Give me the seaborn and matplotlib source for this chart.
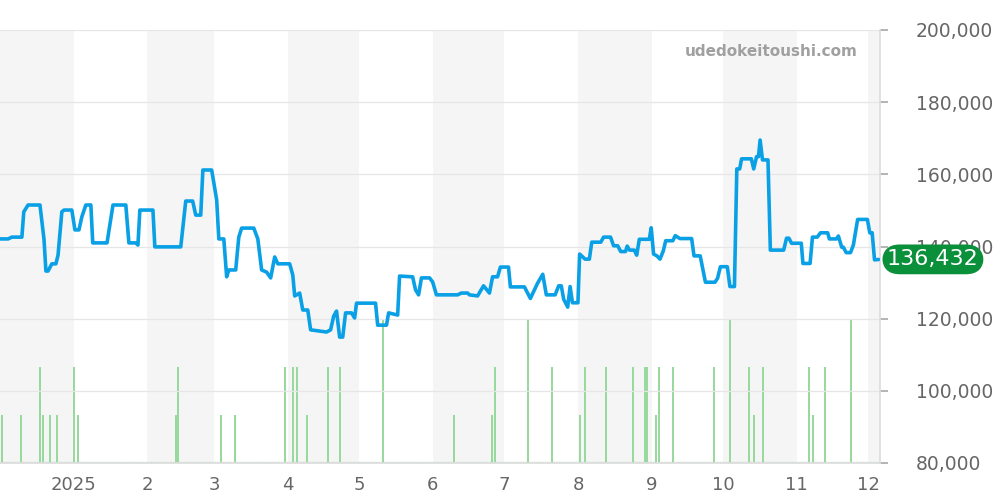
import pandas as pd
import numpy as np
import seaborn as sns
import matplotlib.pyplot as plt

start = pd.Timestamp("2024-12-01")

# price line: day offset from 2024-12-01, price
price_days = [0, 3.4, 5, 9.2, 10, 11.8, 16.8, 18.5, 19.3, 20.2, 21.8, 23.5, 24.4, 26, 26.9, 30.2,
              31.5, 33.2, 34.4, 36.1, 38.2, 39, 45, 46.2, 47.5, 52.9, 54.2, 57.1, 58, 58.8, 64.3,
              65.1, 76, 78.1, 81, 82.3, 84.4, 85.3, 89, 91.1, 92, 94.1, 95.3, 96.2, 99.1, 100.4,
              101.6, 106.7, 108.4, 110, 112.1, 113.8, 115.5, 116.8, 121.8, 123.1, 123.9, 126,
              127.3, 129.4, 130.6, 137.3, 139, 140.3, 141.5, 142.8, 144.1, 145.3, 147.8, 149.1,
              149.9, 157.9, 158.8, 162.5, 163.4, 167.2, 168, 173.5, 174.7, 176, 177.2, 180.6,
              181.9, 183.5, 192.4, 194, 196.6, 197.4, 200.8, 203.3, 205.8, 207.1, 209.2, 210.4,
              213.8, 214.6, 220.5,
              223.0, 226.0, 228.2, 229.7, 233.4, 234.9, 236.0, 237.0, 238.7, 239.7, 240.7, 243.0,
              243.7, 246.0, 247.8, 248.8, 252.6, 253.8, 256.7, 258.0, 259.7, 261.0, 263.0, 263.7,
              264.7, 266.7, 267.7, 268.8, 273.0, 273.8, 274.8, 276.2, 277.5, 278.9, 279.9, 282.9,
              283.9, 285.9, 290.8, 291.8, 294.4, 296.6, 300.6, 301.7, 302.9, 305.8, 306.9, 308.8,
              309.8, 311.0, 311.8, 315.9, 316.9, 318.1, 318.9, 319.6, 320.6, 322.9, 323.9, 329.5,
              330.7, 331.7, 332.8, 336.9, 337.6, 340.6, 341.6, 343.6, 345.0, 348.0, 348.7, 351.7,
              352.5, 353.9, 354.6, 355.8, 357.6, 358.8, 360.6, 364.7, 365.7, 366.7, 367.7, 369.4]
price_vals = [142.1, 142.1, 142.6, 142.6, 149.6, 151.5, 151.5, 142.0, 133.2, 133.2, 135.2, 135.2,
              137.6, 149.6, 150.1, 150.1, 144.6, 144.6, 148.2, 151.5, 151.5, 141.0, 141.0, 146.0,
              151.5, 151.5, 141.0, 141.0, 140.4, 150.1, 150.1, 139.9, 139.9, 152.6, 152.6, 148.7,
              148.7, 161.2, 161.2, 152.9, 142.1, 142.1, 131.6, 133.5, 133.5, 142.6, 145.1, 145.1,
              142.1, 133.5, 132.9, 131.3, 137.1, 135.2, 135.2, 132.1, 126.3, 127.1, 122.4, 122.4,
              116.9, 116.3, 116.9, 120.7, 122.1, 114.9, 114.9, 121.6, 121.6, 120.2, 124.3, 124.3,
              118.2, 118.2, 121.6, 121.0, 131.8, 131.6, 128.0, 126.6, 131.3, 131.3, 130.2, 126.6,
              126.6, 127.1, 127.1, 126.6, 126.3, 129.1, 127.1, 131.6, 131.6, 134.3, 134.3, 128.8,
              128.8,
              125.6, 129.8, 132.3, 126.6, 126.6, 129.1, 129.1, 125.4, 123.2, 128.9, 124.4, 124.4,
              137.9, 136.5, 136.5, 141.2, 141.2, 142.6, 142.6, 140.2, 140.2, 138.6, 138.6, 140.1,
              139.0, 139.0, 137.6, 142.0, 142.0, 145.2, 137.9, 137.4, 136.5, 138.8, 141.6, 141.6,
              143.0, 142.2, 142.2, 137.4, 137.4, 130.1, 130.1, 131.2, 134.4, 134.4, 128.9, 128.9,
              161.5, 161.5, 164.3, 164.3, 161.5, 164.9, 164.9, 169.5, 164.0, 164.0, 139.0, 139.0,
              142.3, 142.3, 140.9, 140.9, 135.3, 135.3, 142.6, 142.6, 143.8, 143.8, 142.1, 142.1,
              142.9, 139.8, 139.8, 138.3, 138.3, 140.4, 147.5, 147.5, 143.8, 143.8, 136.3, 136.4]

# transactions per day
vol_days = [1, 9, 17, 18, 21, 24, 31, 33, 74, 75, 93, 99, 120, 123, 125, 129, 138, 143, 161,
            191, 207, 208, 222, 232, 244, 246, 255, 266, 271, 272, 276, 277, 283, 300, 307, 315,
            317, 321, 340, 342, 347, 358]
vol_counts = [1, 1, 2, 1, 1, 1, 2, 1, 1, 2, 1, 1, 2, 2, 2, 1, 2, 2, 3,
              1, 1, 2, 3, 2, 1, 2, 2, 2, 2, 2, 1, 2, 2, 2, 3, 2,
              1, 2, 2, 1, 2, 3]

y_ticks = [80000, 100000, 120000, 140000, 160000, 180000, 200000]
month_ticks = ["2025-01-01", "2025-02-01", "2025-03-01", "2025-04-01", "2025-05-01", "2025-06-01",
               "2025-07-01", "2025-08-01", "2025-09-01", "2025-10-01", "2025-11-01", "2025-12-01"]
month_labels = ["2025", "2", "3", "4", "5", "6", "7", "8", "9", "10", "11", "12"]
last_price = "136,432"

sns.set_theme(style="white")
plt.rcParams['font.family'] = ['DejaVu Sans']

df = pd.DataFrame({"date": start + pd.to_timedelta(price_days, unit="D"),
                   "price": np.array(price_vals) * 1000})
vdf = pd.DataFrame({"date": start + pd.to_timedelta(vol_days, unit="D"), "n": vol_counts})

fig = plt.figure(figsize=(10, 5), dpi=100)
ax = fig.add_axes([0, 0.074, 0.88, 0.866])
ax2 = ax.twinx()
ax.set_zorder(ax2.get_zorder() + 1)
ax.patch.set_visible(False)

x_end = start + pd.Timedelta(days=370)

# alternating month bands
band_edges = [start] + [pd.Timestamp(m) for m in month_ticks] + [x_end]
for i in range(0, len(band_edges) - 1, 2):
    ax2.axvspan(band_edges[i], band_edges[i + 1], color="#f5f5f5", lw=0, zorder=0)

ax2.vlines(vdf["date"], 0, vdf["n"], color="#8fd694", lw=1.3, zorder=2)
ax2.axhline(0.02, color="#a8dcaa", lw=1, ls=(0, (1, 1)), zorder=2)
ax2.set_ylim(0, 9)
ax2.set_yticks([])
for s in ax2.spines.values():
    s.set_visible(False)

sns.lineplot(data=df, x="date", y="price", ax=ax, color="#0aa0e6", lw=2.6, zorder=5)

ax.set_xlim(start, x_end)
ax.set_ylim(80000, 200000)
ax.yaxis.tick_right()
ax.set_yticks(y_ticks)
ax.set_yticklabels([f"{v:,}" for v in y_ticks], color="#666666", fontsize=13.5)
ax.grid(axis="y", color="#e6e6e6", lw=0.9)
ax.set_xticks(pd.to_datetime(month_ticks))
ax.set_xticklabels(month_labels, color="#666666", fontsize=13)
ax.tick_params(axis="both", length=6, color="#aaaaaa", direction="out")
ax.tick_params(axis="y", pad=20)
ax.set_xlabel("")
ax.set_ylabel("")
for k in ["top", "left"]:
    ax.spines[k].set_visible(False)
ax.spines["right"].set_color("#dddddd")
ax.spines["bottom"].set_color("#dddddd")

ax.text(0.975, 0.95, "udedokeitoushi.com", transform=ax.transAxes, ha="right", va="center",
        fontsize=11, fontweight="bold", color="#a0a0a0")

ax.text(1.008, (136432 - 80000) / 120000, last_price, transform=ax.transAxes, ha="left",
        va="center", fontsize=16, color="white", zorder=10, clip_on=False,
        bbox=dict(boxstyle="round,pad=0.22,rounding_size=0.8", fc="#0a8f3a", ec="none"))

fig.savefig("out.png", dpi=100)
